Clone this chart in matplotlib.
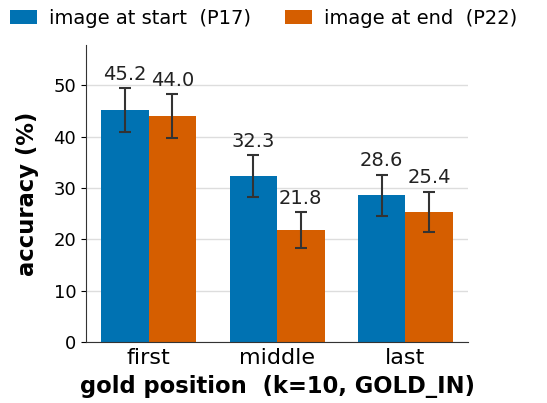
import numpy as np
import matplotlib
matplotlib.use("Agg")
import matplotlib.pyplot as plt

# accuracy by gold position, two prompt variants
positions = ["first", "middle", "last"]
series_names = ["image at start  (P17)", "image at end  (P22)"]
acc_start = [45.2, 32.3, 28.6]
acc_end = [44.0, 21.8, 25.4]
err_start = [4.3, 4.1, 4.0]
err_end = [4.3, 3.5, 3.9]

colors = ["#0072B2", "#D55E00"]


def main():
    fig = plt.figure(figsize=(5.47, 4.03), dpi=100)
    ax = fig.add_axes([0.157, 0.151, 0.699, 0.737])

    x = np.arange(len(positions))
    width = 0.37
    groups = [(acc_start, err_start), (acc_end, err_end)]
    for i, (vals, errs) in enumerate(groups):
        xs = x + (i - 0.5) * width
        ax.bar(xs, vals, width, color=colors[i], label=series_names[i], zorder=2)
        ax.errorbar(xs, vals, yerr=errs, fmt="none", ecolor="#333333",
                    elinewidth=1.5, capsize=4, capthick=1.5, zorder=3)
        for xi, v, e in zip(xs, vals, errs):
            ax.annotate("%.1f" % v, (xi, v + e), xytext=(0, 3),
                        textcoords="offset points", ha="center", va="bottom",
                        fontsize=14, color="#222222")

    ax.set_xticks(x)
    ax.set_xticklabels(positions, fontsize=16)
    ax.tick_params(axis="x", length=0, pad=4)
    ax.tick_params(axis="y", labelsize=13)
    ax.set_xlim(-0.49, 2.49)
    ax.set_ylim(0, 57.8)
    ax.set_yticks([0, 10, 20, 30, 40, 50])
    ax.yaxis.grid(True, color="#dddddd", linewidth=1, zorder=0)
    ax.set_axisbelow(True)
    for side in ["top", "right"]:
        ax.spines[side].set_visible(False)
    for side in ["left", "bottom"]:
        ax.spines[side].set_color("#333333")

    ax.set_xlabel("gold position  (k=10, GOLD_IN)", fontsize=16.3,
                  fontweight="bold", labelpad=5.5)
    ax.set_ylabel("accuracy (%)", fontsize=16.3, fontweight="bold", labelpad=10.5)

    ax.legend(loc="lower center", bbox_to_anchor=(0.465, 1.0), ncol=2,
              frameon=False, fontsize=14, handlelength=1.4, columnspacing=1.75,
              handletextpad=0.6)

    fig.savefig("out.png", dpi=100)


if __name__ == "__main__":
    main()
